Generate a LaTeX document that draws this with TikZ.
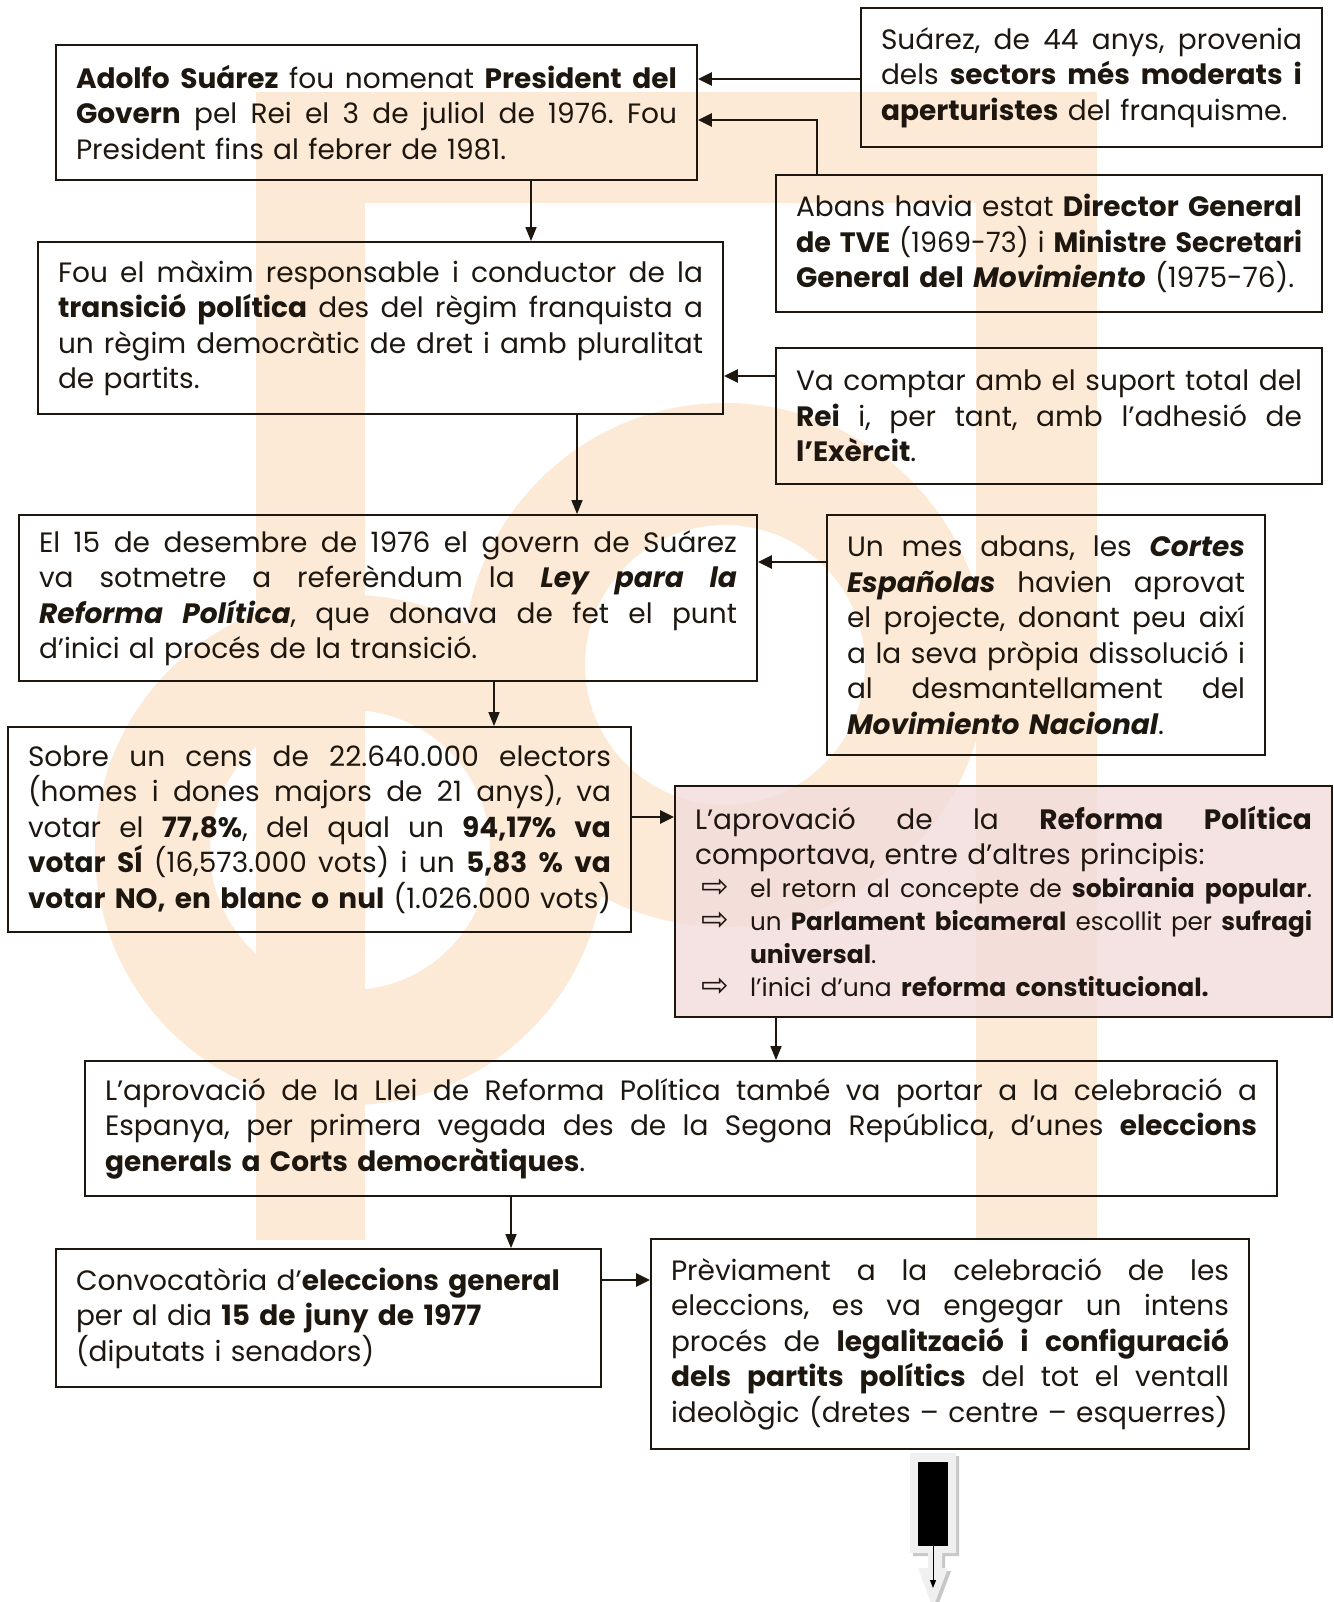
\documentclass[tikz,border=0pt]{standalone}
\usepackage{fontspec}
\usepackage{graphicx}
\setmainfont{Poppins}
\newfontfamily\symfont{DejaVu Sans}
\usetikzlibrary{arrows.meta}
\definecolor{ink}{HTML}{1E1710}
\definecolor{wm}{RGB}{253,234,214}
\definecolor{pinkf}{HTML}{F2DCDB}
\newlength\tw
\newlength\bw
\frenchspacing
\newcommand\jl[1]{\noindent\setbox0\hbox{#1}\ifdim\wd0>\tw\resizebox{\tw}{\height}{#1}\else\hbox to\tw{\spaceskip=\fontdimen2\font plus 1fill\relax#1}\fi\par}
\newcommand\lf[1]{\noindent\setbox0\hbox{#1}\ifdim\wd0>\tw\resizebox{\tw}{\height}{#1}\else\hbox to\tw{#1\hfil}\fi\par}
\newcommand\bi[1]{\textbf{\itshape #1}}
\newcommand\arrsym{\hbox to55pt{\hspace{6pt}{\symfont\fontsize{33}{33}\selectfont\char"21E8}\hfil}}
\newcommand\bulj[1]{\noindent\bw=\dimexpr\tw-55pt\relax\arrsym\setbox0\hbox{#1}\ifdim\wd0>\bw\resizebox{\bw}{\height}{#1}\else\hbox to\bw{\spaceskip=\fontdimen2\font plus 1fill\relax#1}\fi\par}
\newcommand\bull[1]{\noindent\bw=\dimexpr\tw-55pt\relax\arrsym\hbox to\bw{#1\hfil}\par}
\newcommand\bulc[1]{\noindent\bw=\dimexpr\tw-55pt\relax\hbox to55pt{}\hbox to\bw{#1\hfil}\par}
\tikzset{
  box/.style={draw=ink, line width=1.8pt, inner xsep=20pt, inner ysep=0pt,
    font=\fontsize{28}{35.5}\selectfont, text=ink, anchor=center},
  tw/.style={text width=#1pt, execute at begin node={\setlength\tw{#1pt}}},
  arr/.style={draw=ink, line width=2.6pt, -{Triangle[length=14pt,width=13pt]}},
  arrv/.style={draw=ink, line width=1.6pt, -{Triangle[length=14pt,width=11pt]}},
}
\begin{document}
\begin{tikzpicture}[x=1pt,y=-1pt]
\useasboundingbox (0,0) rectangle (1333,1602);
\fill[white] (0,0) rectangle (1333,1602);
% watermark
\fill[wm] (256,92) rectangle (365,1240);
\fill[wm] (256,92) rectangle (1097,203);
\fill[wm] (976,92) rectangle (1097,1240);
\fill[wm, even odd rule] (725,665) circle [radius=262] (725,665) circle [radius=140];
\fill[wm, even odd rule] (350,850) circle [radius=255] (350,850) circle [radius=140];

% boxes
\node[box, minimum width=641pt, minimum height=135pt, tw=601] (b1) at (376.5,112.5) {%
\jl{\textbf{Adolfo Suárez} fou nomenat \textbf{President del}}
\jl{\textbf{Govern} pel Rei el 3 de juliol de 1976. Fou}
\lf{President fins al febrer de 1981.}};

\node[box, minimum width=461pt, minimum height=139pt, tw=421] (bA) at (1091.5,77.5) {%
\jl{Suárez, de 44 anys, provenia}
\jl{dels \textbf{sectors més moderats i}}
\lf{\textbf{aperturistes} del franquisme.}};

\node[box, minimum width=546pt, minimum height=137pt, tw=506] (bB) at (1049,243.5) {%
\jl{Abans havia estat \textbf{Director General}}
\jl{\textbf{de TVE} (1969-73) i \textbf{Ministre Secretari}}
\lf{\textbf{General del \textit{Movimiento}} (1975-76).}};

\node[box, minimum width=685pt, minimum height=172pt, tw=645] (b2) at (380.5,328) {%
\jl{Fou el màxim responsable i conductor de la}
\jl{\textbf{transició política} des del règim franquista a}
\jl{un règim democràtic de dret i amb pluralitat}
\lf{de partits.}};

\node[box, minimum width=546pt, minimum height=136pt, tw=506] (bC) at (1049,416) {%
\jl{Va comptar amb el suport total del}
\jl{\textbf{Rei} i, per tant, amb l’adhesió de}
\lf{\textbf{l’Exèrcit}.}};

\node[box, minimum width=738pt, minimum height=166pt, tw=698] (b3) at (388,598) {%
\jl{El 15 de desembre de 1976 el govern de Suárez}
\jl{va sotmetre a referèndum la \bi{Ley para la}}
\jl{\bi{Reforma Política}, que donava de fet el punt}
\lf{d’inici al procés de la transició.}};

\node[box, minimum width=438pt, minimum height=240pt, tw=398] (bD) at (1046,635) {%
\jl{Un mes abans, les \bi{Cortes}}
\jl{\bi{Españolas} havien aprovat}
\jl{el projecte, donant peu així}
\jl{a la seva pròpia dissolució i}
\jl{al desmantellament del}
\lf{\bi{Movimiento Nacional}.}};

\node[box, minimum width=623pt, minimum height=205pt, tw=583] (b4) at (319.5,829.5) {%
\jl{Sobre un cens de 22.640.000 electors}
\jl{(homes i dones majors de 21 anys), va}
\jl{votar el \textbf{77,8\%}, del qual un \textbf{94,17\% va}}
\jl{\textbf{votar SÍ} (16,573.000 vots) i un \textbf{5,83 \% va}}
\lf{\textbf{votar NO, en blanc o nul} (1.026.000 vots)}};

\node[box, fill=pinkf, fill opacity=0.8, text opacity=1, minimum width=657pt, minimum height=231pt, tw=617] (bE) at (1003.5,901.5) {%
\jl{L’aprovació de la \textbf{Reforma Política}}
\lf{comportava, entre d’altres principis:}
\fontsize{25}{33}\selectfont
\bulj{el retorn al concepte de \textbf{sobirania popular}.}
\bulj{un \textbf{Parlament bicameral} escollit per \textbf{sufragi}}
\bulc{\textbf{universal}.}
\bull{l’inici d’una \textbf{reforma constitucional.}}};

\node[box, minimum width=1192pt, minimum height=135pt, tw=1152] (b5) at (681,1128.5) {%
\jl{L’aprovació de la Llei de Reforma Política també va portar a la celebració a}
\jl{Espanya, per primera vegada des de la Segona República, d’unes \textbf{eleccions}}
\lf{\textbf{generals a Corts democràtiques}.}};

\node[box, minimum width=545pt, minimum height=138pt, tw=505] (b6) at (328.5,1318) {%
\lf{Convocatòria d’\textbf{eleccions general}}
\lf{per al dia \textbf{15 de juny de 1977}}
\lf{(diputats i senadors)}};

\node[box, minimum width=598pt, minimum height=210pt, tw=558] (b7) at (950,1344) {%
\jl{Prèviament a la celebració de les}
\jl{eleccions, es va engegar un intens}
\jl{procés de \textbf{legalització i configuració}}
\jl{\textbf{dels partits polítics} del tot el ventall}
\lf{ideològic (dretes – centre – esquerres)}};

% connector helper coordinates
\coordinate (kA) at (0,79);
\coordinate (kB) at (817,120);
\coordinate (x12) at (531,0);
\coordinate (kC) at (0,376);
\coordinate (x23) at (577,0);
\coordinate (kD) at (0,562);
\coordinate (x34) at (494,0);
\coordinate (k4E) at (0,817);
\coordinate (xE5) at (776,0);
\coordinate (x56) at (511,0);
\coordinate (k67) at (0,1280);

\draw[arr] (bA.west |- kA) -- (b1.east |- kA);
\draw[arr] (bB.north -| kB) -- (kB) -- (b1.east |- kB);
\draw[arrv] (b1.south -| x12) -- (b2.north -| x12);
\draw[arr] (bC.west |- kC) -- (b2.east |- kC);
\draw[arrv] (b2.south -| x23) -- (b3.north -| x23);
\draw[arr] (bD.west |- kD) -- (b3.east |- kD);
\draw[arrv] (b3.south -| x34) -- (b4.north -| x34);
\draw[arr] (b4.east |- k4E) -- (bE.west |- k4E);
\draw[arrv] (bE.south -| xE5) -- (b5.north -| xE5);
\draw[arrv] (b5.south -| x56) -- (b6.north -| x56);
\draw[arr] (b6.east |- k67) -- (b7.west |- k67);

% bottom block arrow
\fill[black!22] (913,1456) -- (959,1456) -- (959,1556) -- (945,1556) -- (945,1571) -- (951,1571)
  -- (936,1611) -- (921,1571) -- (931,1571) -- (931,1556) -- (913,1556) -- cycle;
\fill[black!6] (910,1453) -- (956,1453) -- (956,1553) -- (942,1553) -- (942,1568) -- (948,1568)
  -- (933,1608) -- (918,1568) -- (928,1568) -- (928,1553) -- (910,1553) -- cycle;
\node[fill=black, minimum width=30pt, minimum height=84pt, inner sep=0pt] (blk) at (933,1504) {};
\coordinate (tipE) at (933,1588);
\draw[line width=1pt, -{Triangle[length=8pt,width=6pt]}] (blk.south) -- (tipE);
\end{tikzpicture}
\end{document}
